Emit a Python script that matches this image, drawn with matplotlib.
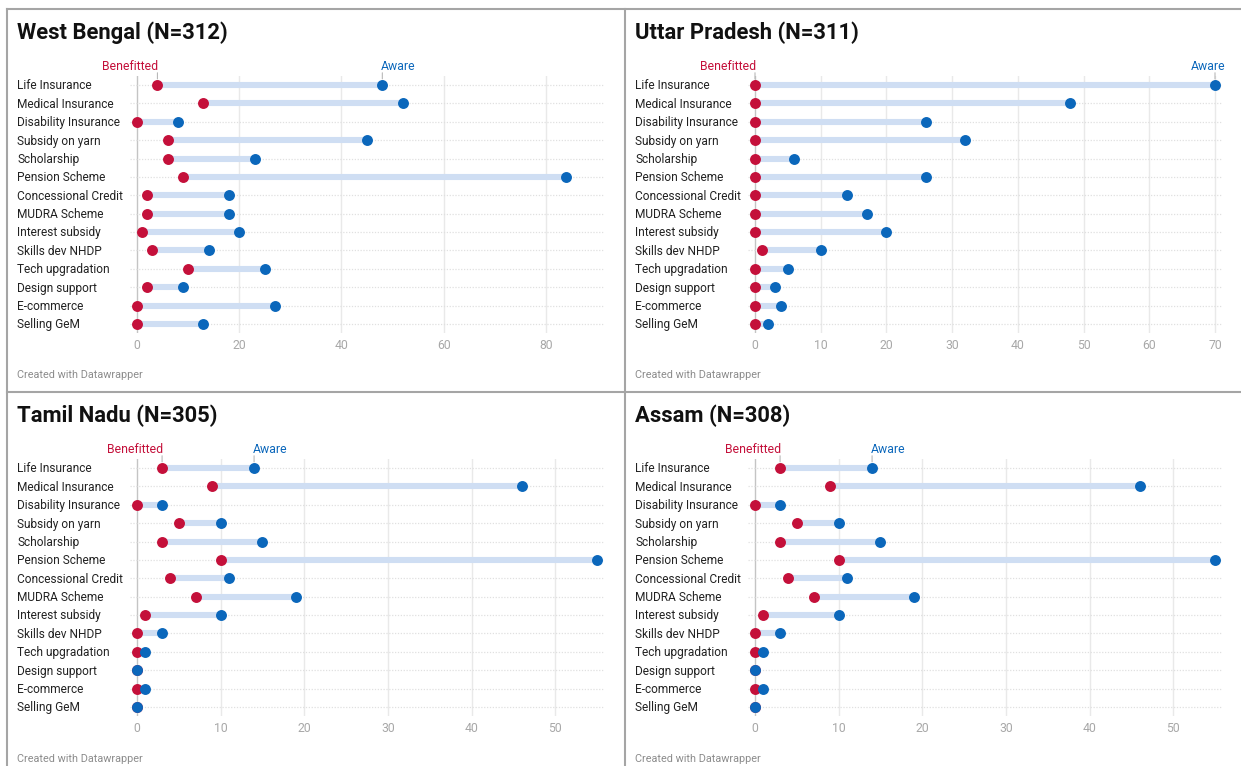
import matplotlib
matplotlib.use("Agg")
import matplotlib.pyplot as plt
import matplotlib.transforms as mtransforms
from matplotlib.lines import Line2D

plt.rcParams['font.family'] = ['Roboto', 'DejaVu Sans']

categories = ["Life Insurance", "Medical Insurance", "Disability Insurance",
              "Subsidy on yarn", "Scholarship", "Pension Scheme",
              "Concessional Credit", "MUDRA Scheme", "Interest subsidy",
              "Skills dev NHDP", "Tech upgradation", "Design support",
              "E-commerce", "Selling GeM"]

wb_benefitted = [4, 13, 0, 6, 6, 9, 2, 2, 1, 3, 10, 2, 0, 0]
wb_aware = [48, 52, 8, 45, 23, 84, 18, 18, 20, 14, 25, 9, 27, 13]
up_benefitted = [0, 0, 0, 0, 0, 0, 0, 0, 0, 1, 0, 0, 0, 0]
up_aware = [70, 48, 26, 32, 6, 26, 14, 17, 20, 10, 5, 3, 4, 2]
tn_benefitted = [3, 9, 0, 5, 3, 10, 4, 7, 1, 0, 0, 0, 0, 0]
tn_aware = [14, 46, 3, 10, 15, 55, 11, 19, 10, 3, 1, 0, 1, 0]
as_benefitted = [3, 9, 0, 5, 3, 10, 4, 7, 1, 0, 0, 0, 0, 0]
as_aware = [14, 46, 3, 10, 15, 55, 11, 19, 10, 3, 1, 0, 1, 0]

titles = ["West Bengal (N=312)", "Uttar Pradesh (N=311)",
          "Tamil Nadu (N=305)", "Assam (N=308)"]
x_max = [90, 70, 55, 55]
x_ticks = [[0, 20, 40, 60, 80],
           [0, 10, 20, 30, 40, 50, 60, 70],
           [0, 10, 20, 30, 40, 50],
           [0, 10, 20, 30, 40, 50]]
benefitted_sets = [wb_benefitted, up_benefitted, tn_benefitted, as_benefitted]
aware_sets = [wb_aware, up_aware, tn_aware, as_aware]
legend_labels = ["Benefitted", "Aware"]
footer = "Created with Datawrapper"

RED = "#c4103a"
BLUE = "#0b67bb"
BAR = "#cfdef3"

W, H = 1241, 766
fig = plt.figure(figsize=(W / 100, H / 100), dpi=100)
fig.patch.set_facecolor("white")

offsets = [(0, 0), (618, 0), (0, 383), (618, 383)]
row_gap = (324 - 85) / 13.0
n = len(categories)

for p in range(4):
    dx, dy = offsets[p]
    left_px, right_px = 130 + dx, 604 + dx
    top_px = 85 - row_gap / 2 + dy
    bot_px = 324 + row_gap / 2 + dy
    ax = fig.add_axes([left_px / W, 1 - bot_px / H,
                       (right_px - left_px) / W, (bot_px - top_px) / H])
    scale = 460.0 / x_max[p]
    ax.set_xlim(-7 / scale, x_max[p] + 7 / scale)
    ax.set_ylim(n - 0.5, -0.5)
    for s in ax.spines.values():
        s.set_visible(False)
    ax.set_yticks([])
    ax.set_xticks(x_ticks[p])
    ax.set_xticklabels([str(t) for t in x_ticks[p]])
    ax.tick_params(axis='x', length=0, pad=4, labelsize=8.8, labelcolor="#a8a8a8")

    for t in x_ticks[p]:
        ax.axvline(t, color="#c4c4c4" if t == 0 else "#e9e9e9", lw=1.0, zorder=1)
    for i in range(n):
        ax.axhline(i, color="#e0e0e0", lw=0.9, ls=(0, (1, 1.3)), zorder=1)

    ben = benefitted_sets[p]
    aw = aware_sets[p]
    ys = list(range(n))
    ax.hlines(ys, ben, aw, color=BAR, lw=4.4, zorder=2, capstyle='butt')
    ax.scatter(ben, ys, s=62, color=RED, zorder=3, linewidths=0, clip_on=False)
    ax.scatter(aw, ys, s=62, color=BLUE, zorder=4, linewidths=0, clip_on=False)

    # category labels
    trans = mtransforms.blended_transform_factory(fig.transFigure, ax.transData)
    for i, c in enumerate(categories):
        ax.text((17 + dx) / W, i + 0.05, c, transform=trans, ha='left', va='center',
                fontsize=8.6, color="#222222")

    # series labels on first row
    for val, lab, col, is_aw in [(ben[0], legend_labels[0], RED, False),
                                  (aw[0], legend_labels[1], BLUE, True)]:
        ax.annotate('', xy=(val, 0), xytext=(0, 8.8), textcoords='offset points',
                    arrowprops=dict(arrowstyle='-', shrinkA=0, shrinkB=4.4,
                                    color="#b8b8b8", lw=0.8),
                    annotation_clip=False)
        if is_aw:
            if val / x_max[p] > 0.9:
                ha, ox = 'right', 7.8
            else:
                ha, ox = 'left', -0.8
        else:
            ha, ox = 'right', 0.8
        ax.annotate(lab, xy=(val, 0), xytext=(ox, 13.3), textcoords='offset points',
                    ha=ha, va='center', fontsize=8.8, color=col,
                    annotation_clip=False)

    fig.text((17 + dx) / W, 1 - (32.5 + dy) / H, titles[p], ha='left', va='center',
             fontsize=15.8, fontweight='bold', color="#111111")
    fig.text((17 + dx) / W, 1 - (375.5 + dy) / H, footer, ha='left', va='center',
             fontsize=7.8, color="#8c8c8c")

# panel borders
bc = "#a5a5a5"
for (x0, y0, x1, y1) in [(7, 9, W, 9), (7, 9, 7, H), (625, 9, 625, H), (7, 392, W, 392)]:
    fig.add_artist(Line2D([x0 / W, x1 / W], [1 - y0 / H, 1 - y1 / H],
                          transform=fig.transFigure, color=bc, lw=1.5))

fig.savefig("out.png", dpi=100, facecolor="white")
